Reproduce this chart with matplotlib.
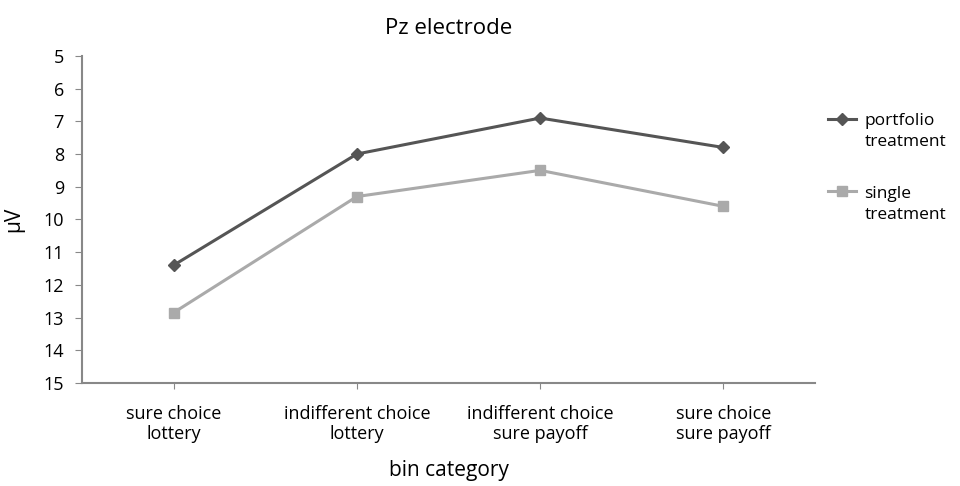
import matplotlib
matplotlib.use("Agg")
import matplotlib.pyplot as plt

categories = ["sure choice\nlottery", "indifferent choice\nlottery",
              "indifferent choice\nsure payoff", "sure choice\nsure payoff"]
portfolio = [11.4, 8.0, 6.9, 7.8]
single = [12.85, 9.3, 8.5, 9.6]
series_names = ["portfolio", "single"]
series_second_line = "treatment"

plt.rcParams["font.family"] = ["Open Sans", "DejaVu Sans"]

fig = plt.figure(figsize=(9.6, 4.86), dpi=100)
ax = fig.add_axes([0.0854, 0.212, 0.7636, 0.673])

x = list(range(len(categories)))
ax.plot(x, portfolio, "D-", color="#555555", lw=2.2, ms=6, label=series_names[0])
ax.plot(x, single, "s-", color="#aaaaaa", lw=2.2, ms=7, label=series_names[1])

ax.set_xlim(-0.5, 3.5)
ax.set_ylim(15, 5)
ax.set_yticks(range(5, 16))
ax.set_xticks(x)
ax.set_xticklabels(categories, fontsize=13, linespacing=1.15)
ax.tick_params(axis="y", labelsize=13, length=5, color="#888888", pad=8)
ax.tick_params(axis="x", length=4, color="#888888", pad=12)
for side in ["top", "right"]:
    ax.spines[side].set_visible(False)
for side in ["left", "bottom"]:
    ax.spines[side].set_color("#888888")
    ax.spines[side].set_linewidth(1.5)

ax.set_ylabel("μV", fontsize=15, labelpad=14)
ax.set_xlabel("bin category", fontsize=15, labelpad=12)
ax.set_title("Pz electrode", fontsize=16, pad=16)

leg = fig.legend(loc="upper left", bbox_to_anchor=(0.846, 0.80), frameon=False,
                 fontsize=12.5, labelspacing=3.25, handlelength=1.6, handletextpad=0.5)

# second line of each legend label, below the first, like the original
fig.canvas.draw()
for t in leg.get_texts():
    bb = t.get_window_extent()
    fig.text(bb.x0 / fig.bbox.width, (bb.y0 - 5) / fig.bbox.height,
             series_second_line, fontsize=12.5, va="top", ha="left")

plt.savefig("out.png", dpi=100)
